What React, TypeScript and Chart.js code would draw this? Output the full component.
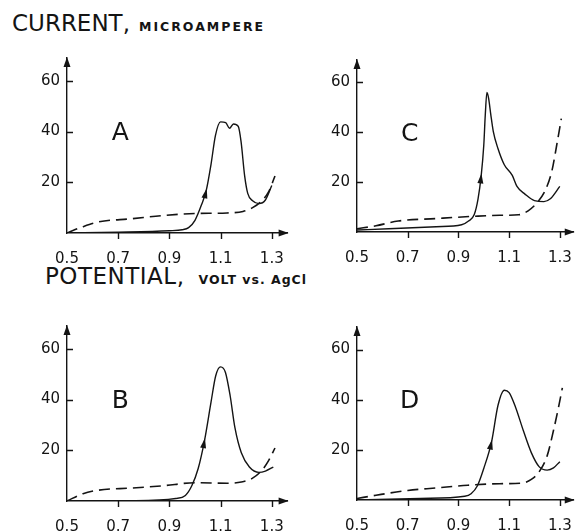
import React, { useEffect, useRef } from "react";
import { Chart, registerables } from "chart.js";

Chart.register(...registerables);

// ---------- data ----------
const xTicks = [0.5, 0.7, 0.9, 1.1, 1.3];
const xTickLabels = ["0.5", "0.7", "0.9", "1.1", "1.3"];
const yTicks = [20, 40, 60];

// Panel A
const aSolidV = [0.5, 0.7, 0.9, 0.95, 0.975, 1.0, 1.025, 1.044, 1.0625, 1.08, 1.1, 1.12, 1.135, 1.15, 1.169, 1.18, 1.194, 1.206, 1.225, 1.25, 1.275, 1.3];
const aSolidI = [0, 0.3, 0.9, 1.3, 2.1, 5, 11, 16.8, 27, 38.5, 43.8, 43.5, 41.3, 43, 42, 36, 22.5, 15.6, 12.7, 11.6, 13, 18.7];
const aDashV = [0.5, 0.5625, 0.625, 0.75, 0.875, 1.0, 1.125, 1.1875, 1.225, 1.256, 1.2875, 1.3125];
const aDashI = [0, 2.5, 4.4, 5.6, 6.9, 7.7, 7.9, 8.5, 10, 12.2, 16.2, 22.5];

// Panel B
const bSolidV = [0.5, 0.75, 0.925, 0.9625, 0.9875, 1.0125, 1.0375, 1.0625, 1.081, 1.1, 1.119, 1.1375, 1.156, 1.181, 1.2125, 1.25, 1.275, 1.306];
const bSolidI = [0, 0.1, 1, 2.2, 6, 12.8, 24, 38.9, 49.4, 52.9, 50.7, 41.4, 28.9, 19, 13.4, 11.3, 11.8, 13.4];
const bDashV = [0.5, 0.5625, 0.625, 0.75, 0.875, 1.0, 1.125, 1.181, 1.225, 1.2625, 1.2875, 1.3125];
const bDashI = [0, 2.9, 4.3, 5.1, 6, 7.2, 7, 7.5, 9, 12.2, 15.9, 20.9];

// Panel C
const cSolidV = [0.5, 0.625, 0.8125, 0.9125, 0.94, 0.9625, 0.9775, 0.99, 1.0, 1.006, 1.0125, 1.019, 1.0275, 1.0375, 1.056, 1.081, 1.1125, 1.131, 1.1625, 1.2, 1.2375, 1.2625, 1.3];
const cSolidI = [0.8, 1.3, 2.1, 2.9, 4.4, 7, 13.3, 22.7, 34.7, 47, 56, 53.7, 47.3, 40.4, 33.5, 27, 22.7, 18.3, 15.2, 12.6, 12.2, 13.3, 18.3];
const cDashV = [0.5, 0.575, 0.6625, 0.8125, 0.9625, 1.0625, 1.1375, 1.175, 1.2125, 1.244, 1.269, 1.2875, 1.306];
const cDashI = [1.3, 2.5, 4.4, 5.4, 6.3, 6.7, 6.9, 8.5, 12, 17, 24.6, 34.7, 45.5];

// Panel D
const dSolidV = [0.5, 0.75, 0.925, 0.95, 0.975, 1.0, 1.031, 1.056, 1.081, 1.1, 1.125, 1.156, 1.1875, 1.219, 1.25, 1.275, 1.3];
const dSolidI = [0, 0.6, 1.5, 2.5, 5.7, 12.6, 23.3, 37.7, 43.8, 42.8, 37.1, 27.7, 18.9, 13.2, 11.9, 12.8, 15.3];
const dDashV = [0.5, 0.575, 0.7, 0.8125, 0.9375, 1.0625, 1.15, 1.1875, 1.219, 1.25, 1.275, 1.294, 1.31];
const dDashI = [0.6, 1.9, 3.8, 4.8, 5.9, 6.5, 6.7, 8.2, 11.3, 17.6, 27.7, 36.5, 44.7];

// ---------- styling / layout ----------
const INK = "#141414";
const FONT = '"DejaVu Sans", sans-serif';
const Y_AXIS_W = 50;
const X_AXIS_H = 36;
const PAD_TOP = 6;
const PAD_RIGHT = 4;
const PX_PER_V = 266.5;
const Y_MAX = 69;

type PanelDef = {
  letter: string;
  solidV: number[];
  solidI: number[];
  dashV: number[];
  dashI: number[];
  arrowIndex: number;
  ox: number;
  oy: number;
  sy: number;
  xMax: number;
};

const panels: PanelDef[] = [
  { letter: "A", solidV: aSolidV, solidI: aSolidI, dashV: aDashV, dashI: aDashI, arrowIndex: 7, ox: 67, oy: 233, sy: 2.675, xMax: 1.362 },
  { letter: "C", solidV: cSolidV, solidI: cSolidI, dashV: cDashV, dashI: cDashI, arrowIndex: 7, ox: 357, oy: 232, sy: 2.64, xMax: 1.355 },
  { letter: "B", solidV: bSolidV, solidI: bSolidI, dashV: bDashV, dashI: bDashI, arrowIndex: 6, ox: 67, oy: 501, sy: 2.683, xMax: 1.362 },
  { letter: "D", solidV: dSolidV, solidI: dSolidI, dashV: dDashV, dashI: dDashI, arrowIndex: 6, ox: 357, oy: 500, sy: 2.65, xMax: 1.355 },
];

const LETTER_V = 0.708;
const LETTER_I = 39.3;

const decorPlugin = {
  id: "decor",
  afterDraw(chart: any, _args: any, opts: any) {
    const { ctx, chartArea } = chart;
    const xs = chart.scales.x;
    const ys = chart.scales.y;
    const x0 = xs.getPixelForValue(0.5);
    const y0 = ys.getPixelForValue(0);
    ctx.save();
    ctx.strokeStyle = INK;
    ctx.fillStyle = INK;
    ctx.lineWidth = 1.4;
    // y ticks (inward)
    ctx.beginPath();
    yTicks.forEach((v) => {
      const py = Math.round(ys.getPixelForValue(v)) + 0.5;
      ctx.moveTo(x0, py);
      ctx.lineTo(x0 + 6, py);
    });
    // x ticks (outward)
    xTicks.slice(1).forEach((v) => {
      const px = Math.round(xs.getPixelForValue(v)) + 0.5;
      ctx.moveTo(px, y0);
      ctx.lineTo(px, y0 + 6);
    });
    ctx.stroke();
    // axis arrowheads
    const xr = chartArea.right;
    ctx.beginPath();
    ctx.moveTo(xr + 1, y0);
    ctx.lineTo(xr - 9, y0 - 3.5);
    ctx.lineTo(xr - 9, y0 + 3.5);
    ctx.closePath();
    ctx.fill();
    const yt = chartArea.top;
    ctx.beginPath();
    ctx.moveTo(x0, yt - 1);
    ctx.lineTo(x0 - 3.5, yt + 9);
    ctx.lineTo(x0 + 3.5, yt + 9);
    ctx.closePath();
    ctx.fill();
    // curve arrow
    const meta = chart.getDatasetMeta(0);
    const idx = opts.arrowIndex;
    const p = meta.data[idx];
    const pa = meta.data[idx - 1];
    const pb = meta.data[idx + 1];
    if (p && pa && pb) {
      const dx = pb.x - pa.x;
      const dy = pb.y - pa.y;
      const len = Math.hypot(dx, dy) || 1;
      const ux = dx / len;
      const uy = dy / len;
      const L = 8;
      const W = 3;
      ctx.beginPath();
      ctx.moveTo(p.x + ux * 2, p.y + uy * 2);
      ctx.lineTo(p.x - ux * L - uy * W, p.y - uy * L + ux * W);
      ctx.lineTo(p.x - ux * L + uy * W, p.y - uy * L - ux * W);
      ctx.closePath();
      ctx.fill();
    }
    // panel letter
    ctx.font = `25px ${FONT}`;
    ctx.textAlign = "center";
    ctx.textBaseline = "middle";
    ctx.fillText(opts.letter, xs.getPixelForValue(LETTER_V), ys.getPixelForValue(LETTER_I));
    ctx.restore();
  },
};

function Panel({ def }: { def: PanelDef }) {
  const ref = useRef<HTMLCanvasElement | null>(null);
  const plotW = (def.xMax - 0.5) * PX_PER_V;
  const canvasW = Math.round(Y_AXIS_W + plotW + PAD_RIGHT);
  const canvasH = Math.round(PAD_TOP + Y_MAX * def.sy + X_AXIS_H);
  const left = def.ox - Y_AXIS_W;
  const top = def.oy - (canvasH - X_AXIS_H);

  useEffect(() => {
    if (!ref.current) return;
    const solid = def.solidV.map((v, i) => ({ x: v, y: def.solidI[i] }));
    const dash = def.dashV.map((v, i) => ({ x: v, y: def.dashI[i] }));
    const chart = new Chart(ref.current, {
      type: "line",
      data: {
        datasets: [
          {
            data: solid,
            borderColor: INK,
            borderWidth: 1.4,
            pointRadius: 0,
            cubicInterpolationMode: "monotone",
            fill: false,
          },
          {
            data: dash,
            borderColor: INK,
            borderWidth: 1.6,
            borderDash: [11, 6],
            pointRadius: 0,
            cubicInterpolationMode: "monotone",
            fill: false,
          },
        ],
      } as any,
      options: {
        responsive: false,
        animation: false,
        devicePixelRatio: 1,
        layout: { padding: { top: PAD_TOP, right: PAD_RIGHT, left: 0, bottom: 0 } },
        plugins: {
          legend: { display: false },
          tooltip: { enabled: false },
          decor: { letter: def.letter, arrowIndex: def.arrowIndex },
        } as any,
        scales: {
          x: {
            type: "linear",
            min: 0.5,
            max: def.xMax,
            afterBuildTicks: (s: any) => {
              s.ticks = xTicks.map((v) => ({ value: v }));
            },
            afterFit: (s: any) => {
              s.height = X_AXIS_H;
            },
            grid: { display: false, drawTicks: false },
            border: { display: true, color: INK, width: 1.4 },
            ticks: {
              autoSkip: false,
              maxRotation: 0,
              padding: 17,
              color: INK,
              font: { family: FONT, size: 15 },
              callback: (value: any) => {
                const i = xTicks.findIndex((t) => Math.abs(t - Number(value)) < 1e-6);
                return i >= 0 ? xTickLabels[i] : "";
              },
            },
          },
          y: {
            type: "linear",
            min: 0,
            max: Y_MAX,
            afterBuildTicks: (s: any) => {
              s.ticks = yTicks.map((v) => ({ value: v }));
            },
            afterFit: (s: any) => {
              s.width = Y_AXIS_W;
            },
            grid: { display: false, drawTicks: false },
            border: { display: true, color: INK, width: 1.4 },
            ticks: {
              padding: 7,
              color: INK,
              font: { family: FONT, size: 15 },
            },
          },
        },
      } as any,
      plugins: [decorPlugin as any],
    });
    return () => chart.destroy();
  }, [def]);

  return (
    <canvas
      ref={ref}
      width={canvasW}
      height={canvasH}
      style={{ position: "absolute", left, top, width: canvasW, height: canvasH }}
    />
  );
}

export default function App() {
  return (
    <div
      style={{
        position: "absolute",
        left: 0,
        top: 0,
        width: 585,
        height: 532,
        overflow: "hidden",
        background: "#fff",
        color: INK,
        fontFamily: FONT,
      }}
    >
      <div style={{ position: "absolute", left: 12, top: 10, fontSize: 23, whiteSpace: "nowrap", lineHeight: "normal" }}>
        <span>CURRENT,</span>
        <span style={{ fontSize: 12.5, fontWeight: "bold", letterSpacing: 2, marginLeft: 9 }}>MICROAMPERE</span>
      </div>
      <div style={{ position: "absolute", left: 45, top: 263, fontSize: 23, whiteSpace: "nowrap", lineHeight: "normal" }}>
        <span style={{ letterSpacing: 0.5 }}>POTENTIAL,</span>
        <span style={{ fontSize: 12.5, fontWeight: "bold", letterSpacing: 1, marginLeft: 14 }}>VOLT vs. AgCl</span>
      </div>
      {panels.map((p) => (
        <Panel key={p.letter} def={p} />
      ))}
    </div>
  );
}
